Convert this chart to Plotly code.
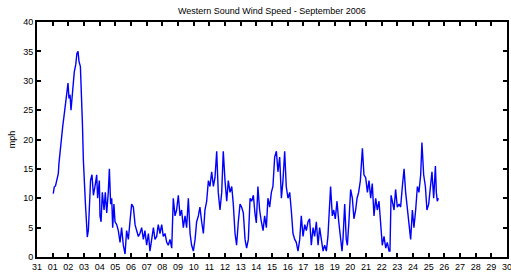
import pandas as pd
import plotly.graph_objects as go

# Day of record (days since 2006-08-31 00:00) and wind speed (mph)
day = [1.04, 1.10, 1.18, 1.27, 1.36, 1.40, 1.49, 1.57, 1.64, 1.72, 1.79, 1.85, 1.91, 1.98,
       2.04, 2.11, 2.17, 2.23, 2.30, 2.38, 2.47, 2.55, 2.62, 2.68, 2.77, 2.83, 2.90, 2.96,
       3.02, 3.09, 3.15, 3.21, 3.28, 3.34, 3.42, 3.51, 3.60, 3.70, 3.81, 3.87, 3.98,
       4.02, 4.09, 4.17, 4.28, 4.36, 4.45, 4.55, 4.62, 4.70, 4.77, 4.83, 4.91, 4.98,
       5.09, 5.19, 5.30, 5.40, 5.51, 5.62, 5.72, 5.83, 5.94,
       6.04, 6.15, 6.26, 6.36, 6.47, 6.57, 6.68, 6.79, 6.89,
       7.00, 7.11, 7.21, 7.32, 7.43, 7.53, 7.64, 7.74, 7.85, 7.96,
       8.06, 8.17, 8.28, 8.38, 8.49, 8.60, 8.70, 8.81, 8.91,
       9.02, 9.13, 9.23, 9.34, 9.45, 9.55, 9.66, 9.77, 9.87, 9.98,
       10.09, 10.19, 10.30, 10.40, 10.51, 10.62, 10.72, 10.83, 10.94,
       11.04, 11.15, 11.26, 11.36, 11.47, 11.57, 11.68, 11.79, 11.89,
       12.00, 12.11, 12.21, 12.32, 12.43, 12.53, 12.64, 12.74, 12.85, 12.96,
       13.06, 13.17, 13.28, 13.38, 13.49, 13.60, 13.70, 13.81, 13.91,
       14.00, 14.10, 14.21, 14.32, 14.43, 14.53, 14.64, 14.74, 14.85, 14.96,
       15.06, 15.17, 15.28, 15.38, 15.49, 15.60, 15.70, 15.81, 15.91,
       16.02, 16.13, 16.23, 16.34, 16.45, 16.55, 16.66, 16.77, 16.87, 16.98,
       17.09, 17.19, 17.30, 17.40, 17.51, 17.62, 17.72, 17.83, 17.94,
       18.04, 18.15, 18.26, 18.36, 18.47, 18.57, 18.68, 18.74, 18.85, 18.94,
       19.04, 19.15, 19.26, 19.36, 19.47, 19.53, 19.64, 19.74, 19.81, 19.91,
       20.02, 20.13, 20.23, 20.34, 20.43, 20.53, 20.64, 20.77, 20.87, 20.98,
       21.09, 21.19, 21.30, 21.40, 21.51, 21.62, 21.72, 21.83, 21.94,
       22.04, 22.15, 22.26, 22.36, 22.47, 22.53, 22.60, 22.68, 22.79, 22.89,
       23.00, 23.11, 23.21, 23.32, 23.43, 23.53, 23.64, 23.74, 23.85, 23.96,
       24.06, 24.17, 24.28, 24.38, 24.49, 24.57, 24.68, 24.79, 24.89,
       25.00, 25.11, 25.21, 25.32, 25.43, 25.49, 25.55, 25.62]

mph = [10.8, 11.9, 12.1, 13.1, 14.2, 15.9, 18.8, 20.5, 22.2, 23.9, 25.3, 26.7, 27.6, 29.6,
       27.0, 27.6, 25.0, 27.0, 28.7, 31.5, 32.7, 34.7, 35.0, 33.3, 32.4, 29.0, 22.7, 16.5,
       11.4, 9.1, 6.3, 3.4, 4.6, 7.4, 13.1, 14.0, 10.5, 12.0, 14.0, 10.0, 13.0,
       7.0, 6.0, 11.0, 8.0, 11.0, 7.5, 11.0, 15.0, 9.0, 10.0, 5.0, 9.0, 6.0,
       5.5, 4.5, 2.5, 5.0, 2.0, 0.5, 4.5, 3.0, 6.5,
       9.0, 8.5, 5.5, 4.5, 3.5, 4.0, 5.0, 3.0, 4.5,
       2.0, 4.0, 1.0, 3.0, 5.0, 3.0, 3.5, 5.5, 4.0, 5.5,
       3.5, 4.0, 2.5, 2.0, 3.0, 1.5, 10.0, 7.0, 8.0,
       10.5, 7.0, 8.0, 5.0, 7.0, 5.0, 10.0, 4.0, 2.0, 1.0,
       3.0, 6.0, 7.0, 8.5, 6.0, 4.0, 8.0, 9.5, 13.0,
       12.0, 14.5, 12.0, 13.5, 18.0, 11.0, 8.0, 11.0, 18.0,
       13.0, 9.5, 13.0, 11.0, 12.0, 9.0, 4.0, 2.0, 6.0, 9.0,
       8.5, 7.5, 3.0, 1.5, 3.0, 10.0, 9.5, 10.5, 7.5,
       5.8, 12.0, 8.0, 6.0, 4.5, 7.0, 5.0, 10.0, 8.5, 11.0,
       12.0, 17.0, 18.0, 14.5, 17.0, 10.0, 13.0, 18.0, 12.0,
       10.0, 11.0, 8.0, 4.0, 3.0, 2.5, 1.0, 3.0, 7.0, 3.5,
       5.5, 4.5, 6.0, 6.5, 2.0, 5.0, 3.5, 6.0, 2.0,
       5.0, 3.0, 1.0, 2.0, 1.0, 3.5, 10.0, 12.0, 7.0, 8.0,
       6.5, 9.5, 6.0, 3.5, 1.0, 3.0, 9.0, 3.0, 2.0, 6.0,
       11.5, 10.0, 6.5, 8.0, 10.0, 11.0, 13.0, 18.5, 14.0, 13.5,
       11.0, 13.0, 10.0, 12.5, 7.0, 10.0, 8.0, 9.5, 6.0,
       2.0, 3.5, 1.5, 2.5, 1.0, 1.0, 10.5, 9.5, 8.0, 11.5,
       8.5, 9.0, 8.5, 12.0, 15.0, 11.0, 8.0, 6.5, 3.0, 8.0,
       5.0, 8.0, 12.0, 11.0, 14.0, 19.5, 14.0, 12.0, 8.0,
       9.0, 11.5, 14.5, 10.0, 15.5, 11.0, 9.5, 10.0]

start = pd.Timestamp("2006-08-31")
times = [start + pd.Timedelta(days=d) for d in day]

fig = go.Figure(go.Scatter(x=times, y=mph, mode="lines",
                           line=dict(color="#0000FF", width=1.4)))

font = dict(family="Liberation Sans, Arial", size=9, color="black")
axis_common = dict(showline=True, linecolor="black", linewidth=2, mirror="allticks",
                   ticks="inside", ticklen=4, tickcolor="black", tickwidth=1.5, showgrid=False,
                   zeroline=False, automargin=False, tickfont=font,
                   ticklabeloverflow="allow")

fig.update_layout(
    width=511, height=272,
    margin=dict(l=37, r=4, t=22, b=15),
    paper_bgcolor="white", plot_bgcolor="white",
    showlegend=False,
    title=dict(text="Western Sound Wind Speed - September 2006", font=font,
               x=0.532, xanchor="center", y=0.96, yanchor="middle"),
    xaxis=dict(range=["2006-08-31", "2006-09-30"], type="date",
               tick0="2006-08-31", dtick=86400000, tickformat="%d", **axis_common),
    yaxis=dict(range=[0, 40], dtick=5,
               title=dict(text="mph", font=font, standoff=6),
               **axis_common),
)

fig.write_html("out.html", config={"displayModeBar": False},
               post_script="document.body.style.margin='0';document.body.style.overflow='hidden';")
